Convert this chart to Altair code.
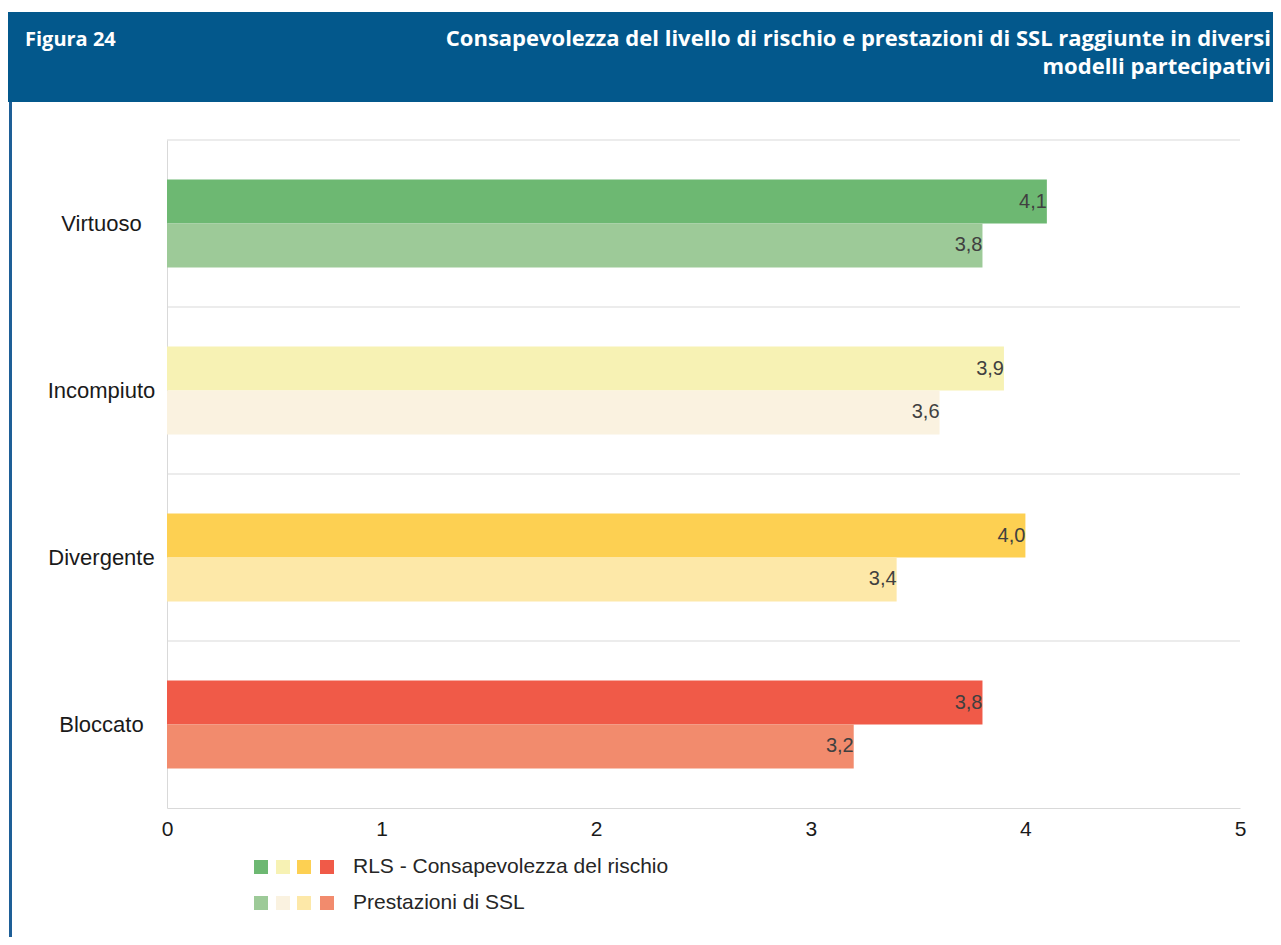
import altair as alt
import pandas as pd

categories = ["Virtuoso", "Incompiuto", "Divergente", "Bloccato"]
series = ["RLS - Consapevolezza del rischio", "Prestazioni di SSL"]
rls_values = [4.1, 3.9, 4.0, 3.8]
ssl_values = [3.8, 3.6, 3.4, 3.2]
rls_colors = ["#6DB872", "#F7F2B4", "#FDD052", "#F05A48"]
ssl_colors = ["#9DCA98", "#FAF2E0", "#FDE8A8", "#F28B6D"]
x_ticks = [0, 1, 2, 3, 4, 5]

fig_label = "Figura 24"
title_lines = ["Consapevolezza del livello di rischio e prestazioni di SSL raggiunte in diversi",
               "modelli partecipativi"]

rows = []
keys, colors = [], []
for i, c in enumerate(categories):
    rows.append({"cat": c, "ser": series[0], "v": rls_values[i], "key": c + "|0"})
    rows.append({"cat": c, "ser": series[1], "v": ssl_values[i], "key": c + "|1"})
    keys += [c + "|0", c + "|1"]
    colors += [rls_colors[i], ssl_colors[i]]
df = pd.DataFrame(rows)

W, H = 1073, 668
PL, PT = 159, 132
TOTAL_W, TOTAL_H = 1265, 929

FONT = "Liberation Sans"
HFONT = "Open Sans"

y_enc = alt.Y("cat:N", sort=categories,
              scale=alt.Scale(domain=categories, paddingInner=0, paddingOuter=0),
              axis=alt.Axis(title=None, ticks=False, grid=False, domainColor="#d9d9d9",
                            labelFontSize=22, labelFont=FONT, labelColor="#1a1a1a",
                            labelAlign="center", labelPadding=66))
x_enc = alt.X("v:Q", scale=alt.Scale(domain=[0, 5], nice=False),
              axis=alt.Axis(title=None, ticks=False, grid=False, values=x_ticks, format="d",
                            domainColor="#d9d9d9", labelFontSize=21, labelFont=FONT,
                            labelColor="#1a1a1a", labelPadding=10, labelFlush=False))
yoff = alt.YOffset("ser:N", sort=series,
                   scale=alt.Scale(domain=series, paddingInner=0, paddingOuter=0.9))

base = alt.Chart(df)

grid = alt.Chart(pd.DataFrame({"cat": categories})).mark_rule(
    color="#d9d9d9", strokeWidth=1).encode(
    y=alt.Y("cat:N", sort=categories, bandPosition=0))

bars = base.mark_bar().encode(
    x=x_enc, y=y_enc, yOffset=yoff,
    color=alt.Color("key:N", scale=alt.Scale(domain=keys, range=colors), legend=None))

labels = base.transform_calculate(
    lab="replace(format(datum.v, '.1f'), '.', ',')"
).mark_text(align="right", baseline="middle", dx=0, fontSize=20, font=FONT,
            color="#404040").encode(
    x="v:Q", y=alt.Y("cat:N", sort=categories), yOffset=yoff, text="lab:N")

one = pd.DataFrame({"a": [0]})

header = alt.Chart(one).mark_rect(color="#03588C").encode(
    x=alt.value(-PL), x2=alt.value(TOTAL_W - PL + 8), y=alt.value(-128), y2=alt.value(-38))

side = alt.Chart(one).mark_rule(color="#1E5F97", strokeWidth=3).encode(
    x=alt.value(-156.5), y=alt.value(-38), y2=alt.value(830))

fig_text = alt.Chart(one).mark_text(
    text=fig_label, align="left", baseline="alphabetic", font=HFONT, fontWeight="bold",
    fontSize=20, color="white").encode(x=alt.value(25 - 167), y=alt.value(46 - 140))

title_text = alt.Chart(one).mark_text(
    text=title_lines, align="right", baseline="alphabetic", font=HFONT, fontWeight="bold",
    fontSize=22, lineHeight=28, color="white").encode(
    x=alt.value(1271 - 167), y=alt.value(46 - 140))

legend_layers = []
sw_x = [94, 116, 137, 160]
for r, (cols, name) in enumerate([(rls_colors, series[0]), (ssl_colors, series[1])]):
    yy = 727 + r * 36
    for j, col in enumerate(cols):
        legend_layers.append(alt.Chart(one).mark_square(size=196, color=col, opacity=1).encode(
            x=alt.value(sw_x[j]), y=alt.value(yy)))
    legend_layers.append(alt.Chart(one).mark_text(
        text=name, align="left", baseline="middle", font=FONT, fontSize=21,
        color="#262626").encode(x=alt.value(186), y=alt.value(yy)))

chart = alt.layer(header, side, fig_text, title_text, grid, bars, labels, *legend_layers).properties(
    width=W, height=H,
    padding={"left": PL, "top": PT, "right": TOTAL_W - PL - W, "bottom": TOTAL_H - PT - H},
    autosize=alt.AutoSizeParams(type="none"),
).configure_view(stroke=None)

chart.save("out.html", embed_options={"renderer": "svg", "actions": False})
